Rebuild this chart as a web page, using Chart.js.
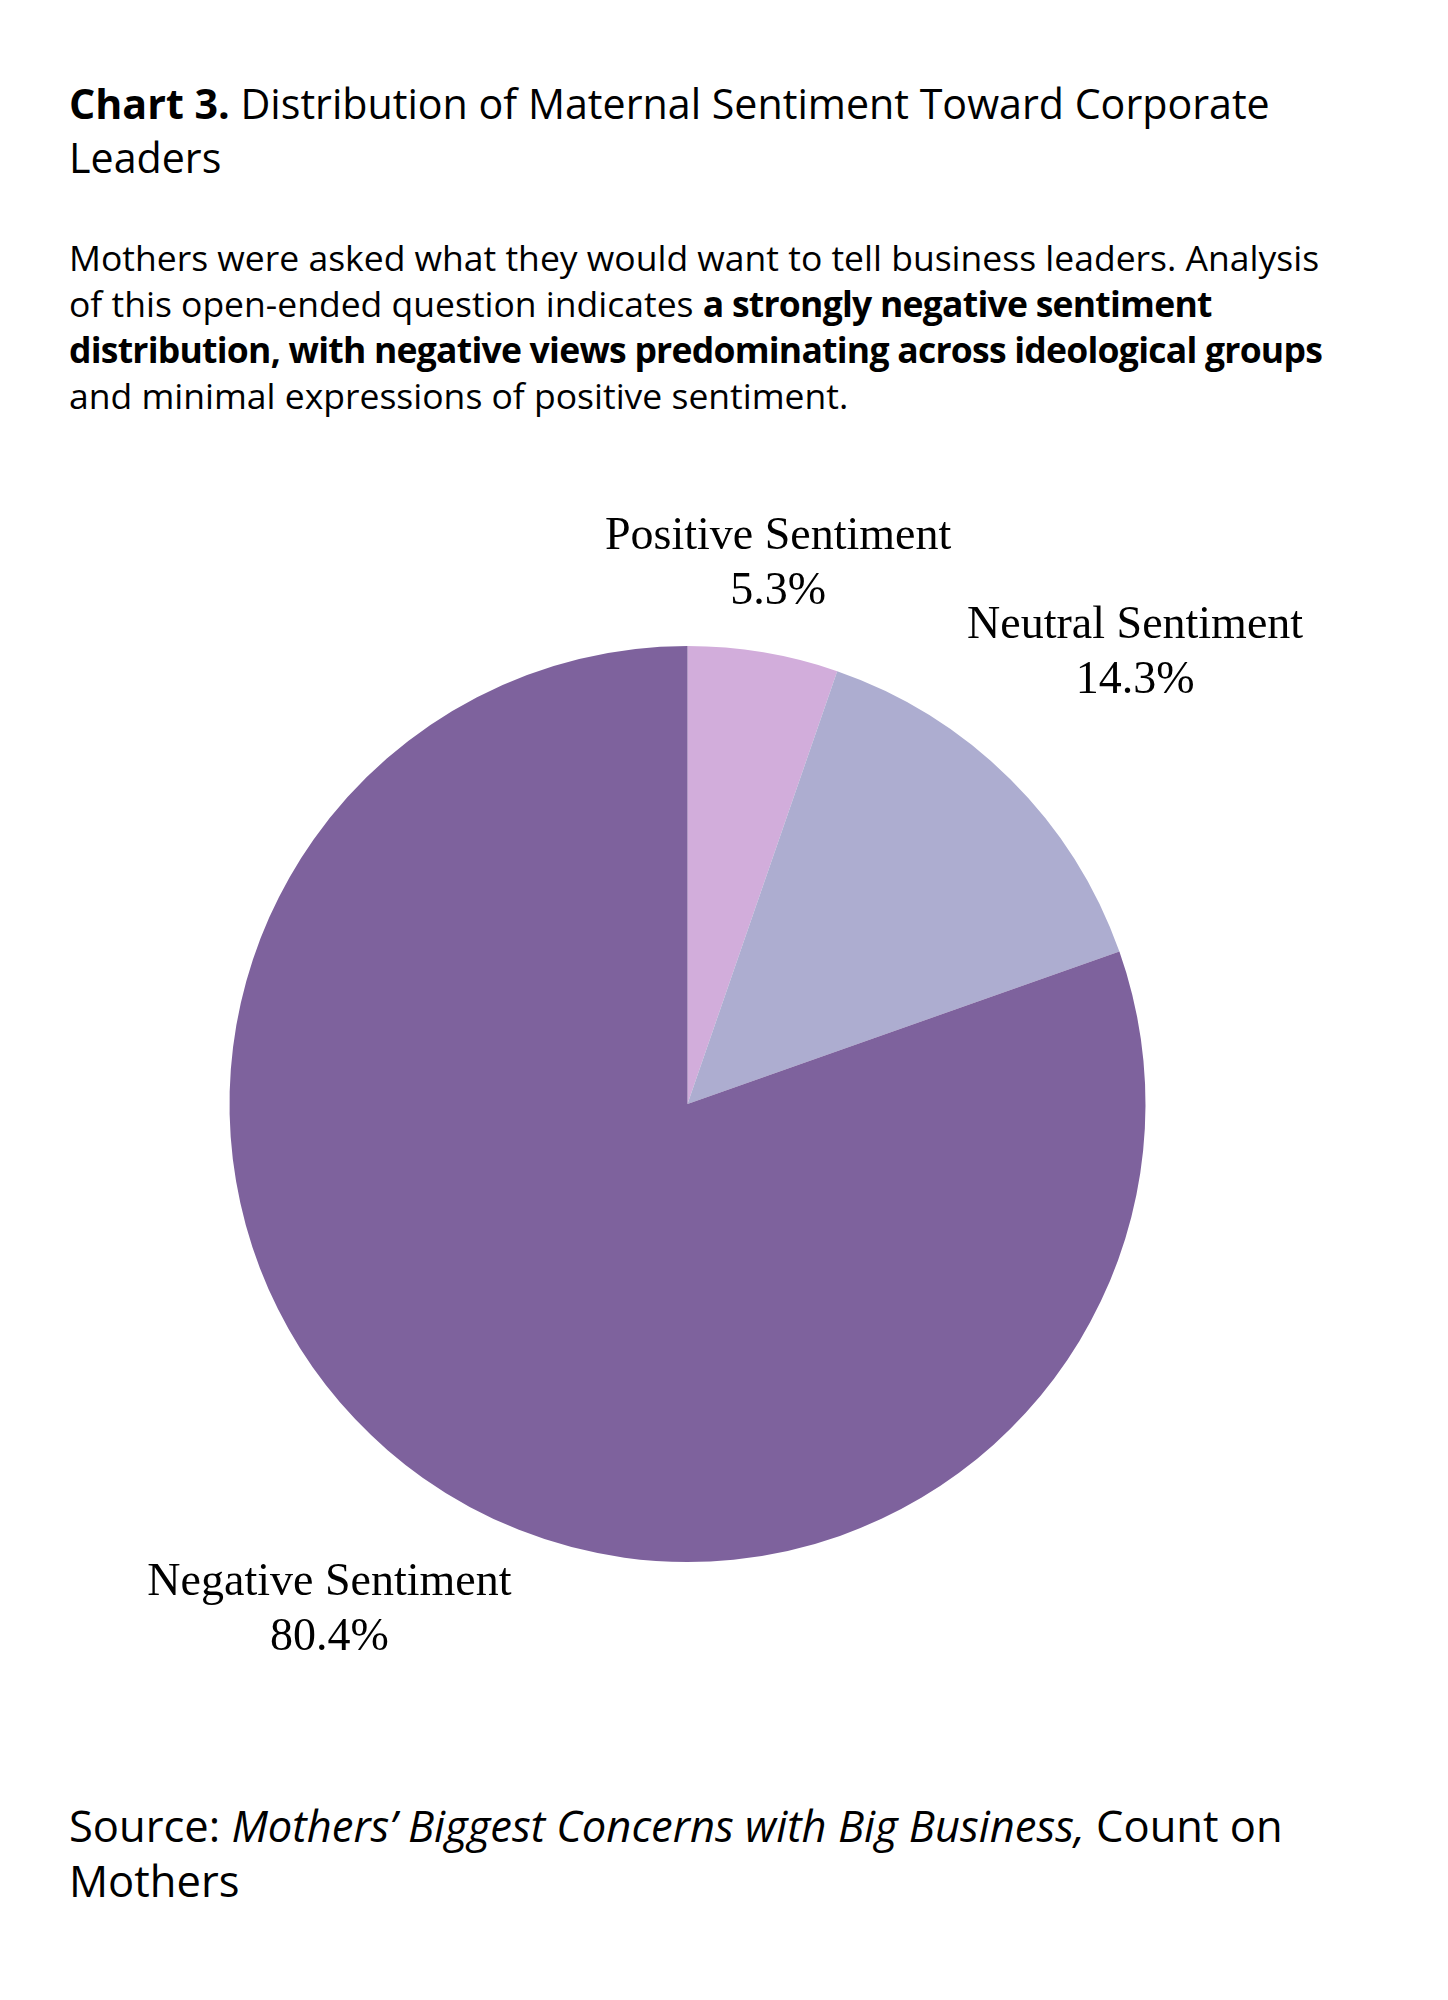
<!DOCTYPE html>
<html>
<head>
<meta charset="utf-8">
<script src="https://cdn.jsdelivr.net/npm/chart.js@4"></script>
<style>
  html, body { margin: 0; padding: 0; background: #fff; }
  body { width: 1448px; height: 2000px; position: relative; font-family: "Open Sans", Lato, sans-serif; color: #000; }
  .title { position: absolute; left: 69px; top: 76px; white-space: nowrap; font-size: 41.2px; line-height: 54px; }
  .title b { font-weight: 700; }
  .desc { position: absolute; left: 69px; top: 234px; white-space: nowrap; font-size: 35.5px; line-height: 46px; }
  .desc b { font-weight: 700; letter-spacing: -0.75px; }
  .source { position: absolute; left: 69px; top: 1798px; white-space: nowrap; font-size: 43.5px; line-height: 55px; }
  #wrap { position: absolute; left: 0; top: 500px; width: 1448px; height: 1208px; }
</style>
</head>
<body>
<div class="title"><b>Chart 3.</b> Distribution of Maternal Sentiment Toward Corporate<br>Leaders</div>
<div class="desc">Mothers were asked what they would want to tell business leaders. Analysis<br>of this open-ended question indicates <b>a strongly negative sentiment<br>distribution, with negative views predominating across ideological groups</b><br>and minimal expressions of positive sentiment.</div>
<div id="wrap"><canvas id="pie"></canvas></div>
<div class="source">Source: <i>Mothers’ Biggest Concerns with Big Business,</i> Count on<br>Mothers</div>

<script>
// 数据
const labels = ['Positive Sentiment', 'Neutral Sentiment', 'Negative Sentiment'];
const values = [5.3, 14.3, 80.4];
const colors = ['#D2ADDB', '#ADADD0', '#7E629D'];

// 在扇区外侧画标签
const outsideLabels = {
    id: 'outsideLabels',
    afterDatasetsDraw(chart) {
        const ctx = chart.ctx;
        const meta = chart.getDatasetMeta(0);
        const fontSize = 46;
        const lineH = 55;
        const gap = 26;
        ctx.save();
        ctx.font = fontSize + 'px "Liberation Serif", "DejaVu Serif", serif';
        ctx.fillStyle = '#000';
        ctx.textAlign = 'center';
        ctx.textBaseline = 'middle';
        meta.data.forEach(function(arc, i) {
            const mid = (arc.startAngle + arc.endAngle) / 2;
            const lines = [labels[i], values[i].toFixed(1) + '%'];
            const hw = Math.max.apply(null, lines.map(l => ctx.measureText(l).width)) / 2;
            const hh = lineH * lines.length / 2;
            const cos = Math.cos(mid), sin = Math.sin(mid);
            // 沿角度向外推，直到文字框离开圆
            let d = arc.outerRadius;
            for (; d < arc.outerRadius * 3; d += 1) {
                const cx = d * cos, cy = d * sin;
                const nx = Math.max(Math.abs(cx) - hw, 0);
                const ny = Math.max(Math.abs(cy) - hh, 0);
                if (Math.sqrt(nx * nx + ny * ny) >= arc.outerRadius + gap) break;
            }
            const x = arc.x + d * cos;
            const y = arc.y + d * sin;
            lines.forEach(function(l, k) {
                ctx.fillText(l, x, y + (k - (lines.length - 1) / 2) * lineH);
            });
        });
        ctx.restore();
    }
};

new Chart(document.getElementById('pie'), {
    type: 'pie',
    data: {
        labels: labels,
        datasets: [{
            data: values,
            backgroundColor: colors,
            borderWidth: 0
        }]
    },
    options: {
        responsive: true,
        maintainAspectRatio: false,
        animation: false,
        layout: { padding: { left: 229, right: 302, top: 146, bottom: 146 } },
        plugins: {
            legend: { display: false },
            tooltip: { enabled: false }
        }
    },
    plugins: [outsideLabels]
});
</script>
</body>
</html>
